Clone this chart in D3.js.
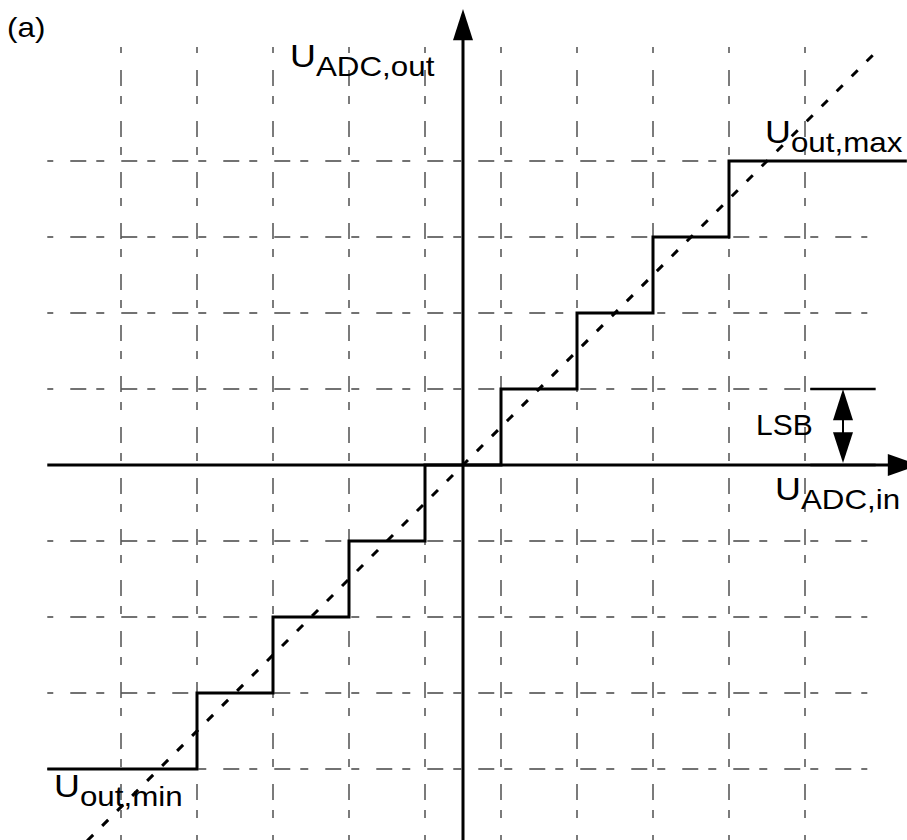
<!DOCTYPE html>
<html lang="en">
<head>
<meta charset="UTF-8">
<title>ADC transfer characteristic</title>
<script src="https://d3js.org/d3.v7.min.js"></script>
<style>
  body { margin: 0; background: #fff; }
  svg { display: block; font-family: "Liberation Sans", Arial, sans-serif; }
  text { fill: #000; }
  .grid line { stroke: #444; stroke-width: 1.4; stroke-dasharray: 16,10,8,17; stroke-dashoffset: 28; }
</style>
</head>
<body>
<svg width="907" height="840"></svg>
<script>
// everything is in LSB units, origin at the axes crossing
const codes = [-4, -3, -2, -1, 0, 1, 2, 3, 4];
const thresholds = [-3.5, -2.5, -1.5, -0.5, 0.5, 1.5, 2.5, 3.5];
const inputRange = [-5.47, 5.84];
const gridX = [-4.5, -3.5, -2.5, -1.5, -0.5, 0.5, 1.5, 2.5, 3.5, 4.5];
const gridY = [-4, -3, -2, -1, 1, 2, 3, 4];
const idealRange = [-5.5, 5.45];

var svg = d3.select("svg");
var x = d3.scaleLinear().domain([0, 1]).range([463, 539]);
var y = d3.scaleLinear().domain([0, 1]).range([465, 389]);

// dashed grid
var grid = svg.append("g").attr("class", "grid");
grid.selectAll(".gy").data(gridY).enter().append("line")
    .attr("x1", x(-5.47)).attr("x2", x(5.32))
    .attr("y1", d => y(d)).attr("y2", d => y(d));
grid.selectAll(".gx").data(gridX).enter().append("line")
    .attr("x1", d => x(d)).attr("x2", d => x(d))
    .attr("y1", y(5.5)).attr("y2", y(-5.1));

// ideal line (dashed diagonal)
var p0 = [x(idealRange[0]), y(idealRange[0])], p1 = [x(idealRange[1]), y(idealRange[1])];
var L0 = Math.hypot(x(0) - p0[0], y(0) - p0[1]) - 1.5;
var period = 8.5 + 12.7;
svg.append("line")
    .attr("x1", p0[0]).attr("y1", p0[1]).attr("x2", p1[0]).attr("y2", p1[1])
    .attr("stroke", "#000").attr("stroke-width", 3)
    .attr("stroke-dasharray", "8.5,12.7")
    .attr("stroke-dashoffset", period - (L0 % period));

// axes
var axis = svg.append("g").attr("stroke", "#000").attr("stroke-width", 3);
axis.append("line").attr("x1", x(-5.47)).attr("x2", x(5.6)).attr("y1", y(0)).attr("y2", y(0));
axis.append("line").attr("x1", x(0)).attr("x2", x(0)).attr("y1", y(-5.1)).attr("y2", y(5.6));
svg.append("path")
    .attr("d", "M" + x(6) + "," + y(0) + "L" + x(5.59) + "," + (y(0) - 11) + "L" + x(5.59) + "," + (y(0) + 11) + "Z");
svg.append("path")
    .attr("d", "M" + x(0) + "," + y(6) + "L" + (x(0) - 10) + "," + y(5.59) + "L" + (x(0) + 10) + "," + y(5.59) + "Z");

// staircase
var steps = [[inputRange[0], codes[0]]];
thresholds.forEach(function(t, i) {
    steps.push([t, codes[i]]);
    steps.push([t, codes[i + 1]]);
});
steps.push([inputRange[1], codes[codes.length - 1]]);
svg.append("path")
    .datum(steps)
    .attr("fill", "none").attr("stroke", "#000").attr("stroke-width", 3)
    .attr("d", d3.line().x(d => x(d[0])).y(d => y(d[1])));

// LSB marker
var lsb = svg.append("g");
[0, 1].forEach(function(v) {
    lsb.append("line").attr("x1", x(4.57)).attr("x2", x(5.43))
        .attr("y1", y(v)).attr("y2", y(v)).attr("stroke", "#000").attr("stroke-width", 2.5);
});
lsb.append("line").attr("x1", x(5)).attr("x2", x(5)).attr("y1", y(0.6)).attr("y2", y(0.42))
    .attr("stroke", "#000").attr("stroke-width", 2);
lsb.append("path").attr("d", "M" + x(5) + "," + y(1) + "L" + (x(5) - 10) + "," + y(0.59) + "L" + (x(5) + 10) + "," + y(0.59) + "Z");
lsb.append("path").attr("d", "M" + x(5) + "," + (y(0) - 2) + "L" + (x(5) - 10) + "," + y(0.43) + "L" + (x(5) + 10) + "," + y(0.43) + "Z");

// labels
function label(px, py, main, sub) {
    var t = svg.append("text")
        .attr("transform", "translate(" + px + "," + py + ") scale(1.12,1)")
        .attr("font-size", 32);
    t.append("tspan").text(main);
    if (sub) t.append("tspan").attr("font-size", 28).attr("dy", 9).text(sub);
}
label(290, 67, "U", "ADC,out");
label(765, 143, "U", "out,max");
label(775, 500, "U", "ADC,in");
label(54, 797, "U", "out,min");
svg.append("text").attr("transform", "translate(756,435)")
    .attr("font-size", 30).text("LSB");
svg.append("text").attr("transform", "translate(7,37) scale(1.12,1)")
    .attr("font-size", 28).text("(a)");
</script>
</body>
</html>
